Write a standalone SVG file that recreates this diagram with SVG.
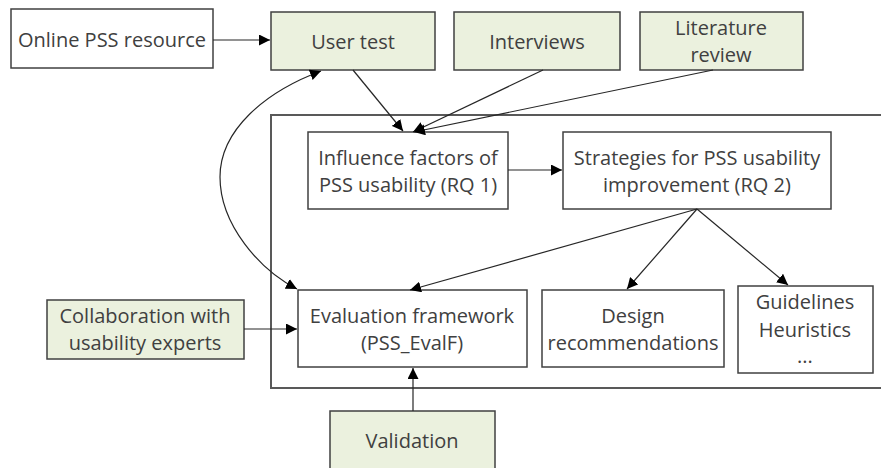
<svg xmlns="http://www.w3.org/2000/svg" width="881" height="468" viewBox="0 0 881 468">
<defs>
<style>
.box{fill:#ffffff;stroke:#404040;stroke-width:1.5}
.g{fill:#ebf1de;stroke:#404040;stroke-width:1.5}
.t{font-family:"Open Sans","Liberation Sans",sans-serif;font-size:20px;fill:#404040;text-anchor:middle;dominant-baseline:central}
.c{fill:none;stroke:#262626;stroke-width:1.2}
.frame{fill:none;stroke:#595959;stroke-width:2}
</style>
<marker id="ah" viewBox="0 0 10 10" refX="10" refY="5" markerWidth="11" markerHeight="11" markerUnits="userSpaceOnUse" orient="auto-start-reverse">
<path d="M0,0 L10,5 L0,10 z" fill="#000000"/>
</marker>
</defs>
<rect width="881" height="468" fill="#ffffff"/>
<g id="container">
<path class="frame" d="M882,115 H271 V388 H882"/>
</g>
<g id="online"><rect class="box" x="11" y="9" width="202" height="59"/><text class="t" x="112" y="39">Online PSS resource</text></g>
<g id="usertest"><rect class="g" x="271" y="12" width="164" height="58"/><text class="t" x="353" y="41">User test</text></g>
<g id="interviews"><rect class="g" x="454" y="12" width="166" height="58"/><text class="t" x="537" y="41">Interviews</text></g>
<g id="literature"><rect class="g" x="640" y="12" width="163" height="58"/><text class="t" x="721" y="27">Literature</text><text class="t" x="721" y="54">review</text></g>
<g id="influence"><rect class="box" x="308" y="132" width="200" height="77"/><text class="t" x="408" y="157">Influence factors of</text><text class="t" x="408" y="184">PSS usability (RQ 1)</text></g>
<g id="strategies"><rect class="box" x="563" y="132" width="268" height="77"/><text class="t" x="697" y="157">Strategies for PSS usability</text><text class="t" x="697" y="184">improvement (RQ 2)</text></g>
<g id="evaluation"><rect class="box" x="298" y="290" width="229" height="77"/><text class="t" x="412" y="315">Evaluation framework</text><text class="t" x="412" y="342">(PSS_EvalF)</text></g>
<g id="design"><rect class="box" x="542" y="290" width="182" height="77"/><text class="t" x="633" y="315">Design</text><text class="t" x="633" y="342">recommendations</text></g>
<g id="guidelines"><rect class="box" x="738" y="286" width="135" height="87"/><text class="t" x="805" y="301">Guidelines</text><text class="t" x="805" y="329">Heuristics</text><text class="t" x="805" y="355">...</text></g>
<g id="collaboration"><rect class="g" x="47" y="300" width="197" height="59"/><text class="t" x="145" y="315">Collaboration with</text><text class="t" x="145" y="342">usability experts</text></g>
<g id="validation"><rect class="g" x="330" y="411" width="165" height="62"/><text class="t" x="412" y="440">Validation</text></g>
<g id="connectors">
<line class="c" x1="213" y1="40" x2="270" y2="40" marker-end="url(#ah)"/>
<line class="c" x1="353" y1="70" x2="403" y2="131" marker-end="url(#ah)"/>
<line class="c" x1="543" y1="70" x2="413" y2="132" marker-end="url(#ah)"/>
<line class="c" x1="713" y1="70" x2="414" y2="132" marker-end="url(#ah)"/>
<line class="c" x1="508" y1="170" x2="562" y2="170" marker-end="url(#ah)"/>
<line class="c" x1="697" y1="209" x2="410" y2="290" marker-end="url(#ah)"/>
<line class="c" x1="697" y1="209" x2="627" y2="289" marker-end="url(#ah)"/>
<line class="c" x1="697" y1="209" x2="788" y2="285" marker-end="url(#ah)"/>
<line class="c" x1="244" y1="329" x2="297" y2="329" marker-end="url(#ah)"/>
<line class="c" x1="413" y1="411" x2="413" y2="368" marker-end="url(#ah)"/>
<path class="c" d="M321,71 C265,92 220,130 220,177 C220,225 260,270 297,289" marker-start="url(#ah)" marker-end="url(#ah)"/>
</g>
</svg>
